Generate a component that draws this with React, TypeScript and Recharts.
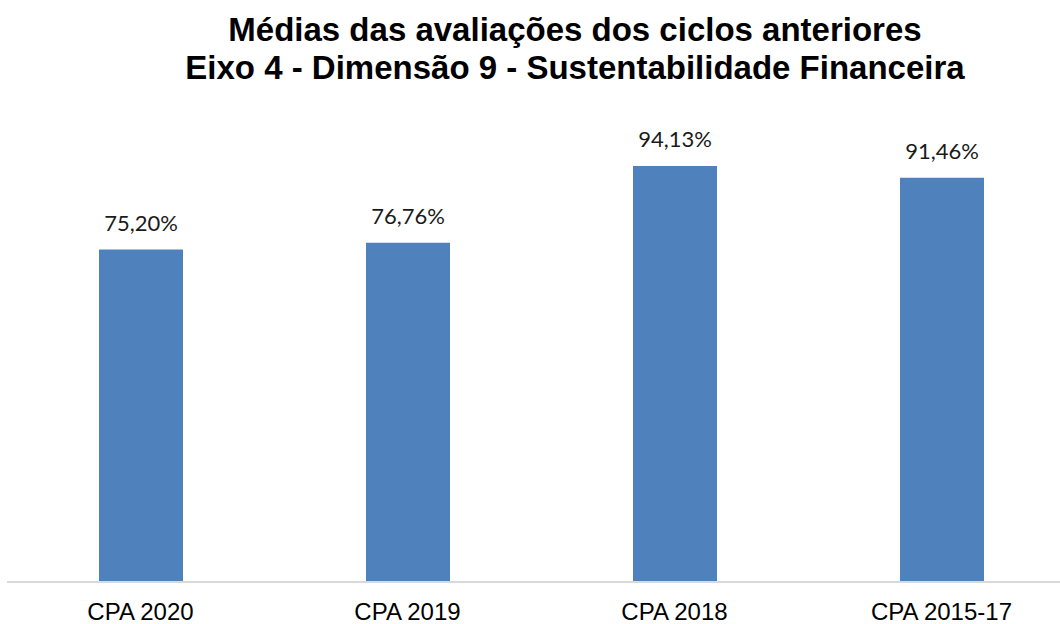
import { BarChart, Bar, XAxis, YAxis, LabelList } from "recharts";

// Data
const cycles = ["CPA 2020", "CPA 2019", "CPA 2018", "CPA 2015-17"];
const averages = [75.2, 76.76, 94.13, 91.46];

const data = cycles.map((label, i) => ({ label, value: averages[i] }));

const fmt = (v: any) => `${Number(v).toFixed(2).replace(".", ",")}%`;

export default function App() {
  return (
    <div
      style={{
        position: "fixed",
        left: 0,
        top: 0,
        width: 1060,
        height: 624,
        overflow: "hidden",
        background: "#fff",
      }}
    >
      {/* Title */}
      <div
        style={{
          position: "absolute",
          left: 0,
          top: 11,
          width: 1150,
          textAlign: "center",
          fontFamily: "'Liberation Sans', Arial, sans-serif",
          fontWeight: "bold",
          fontSize: 33,
          lineHeight: "38px",
          color: "#000",
        }}
      >
        Médias das avaliações dos ciclos anteriores
        <br />
        Eixo 4 - Dimensão 9 - Sustentabilidade Financeira
      </div>

      <BarChart
        width={1076}
        height={624}
        data={data}
        margin={{ top: 140, right: 1, left: 7, bottom: 0 }}
        barSize={84}
      >
        <XAxis
          dataKey="label"
          height={42}
          axisLine={{ stroke: "#d9d9d9", strokeWidth: 2 }}
          tickLine={false}
          tickSize={0}
          tickMargin={21}
          tick={{ fill: "#000", fontSize: 24, fontFamily: "'Liberation Sans', Arial, sans-serif" }}
        />
        <YAxis hide domain={[0, 100]} />
        <Bar dataKey="value" fill="#4F81BD" isAnimationActive={false}>
          <LabelList
            dataKey="value"
            position="top"
            offset={19}
            formatter={fmt}
            style={{ fill: "#1a1a1a", fontSize: 22, fontFamily: "Lato, sans-serif" }}
          />
        </Bar>
      </BarChart>
    </div>
  );
}
